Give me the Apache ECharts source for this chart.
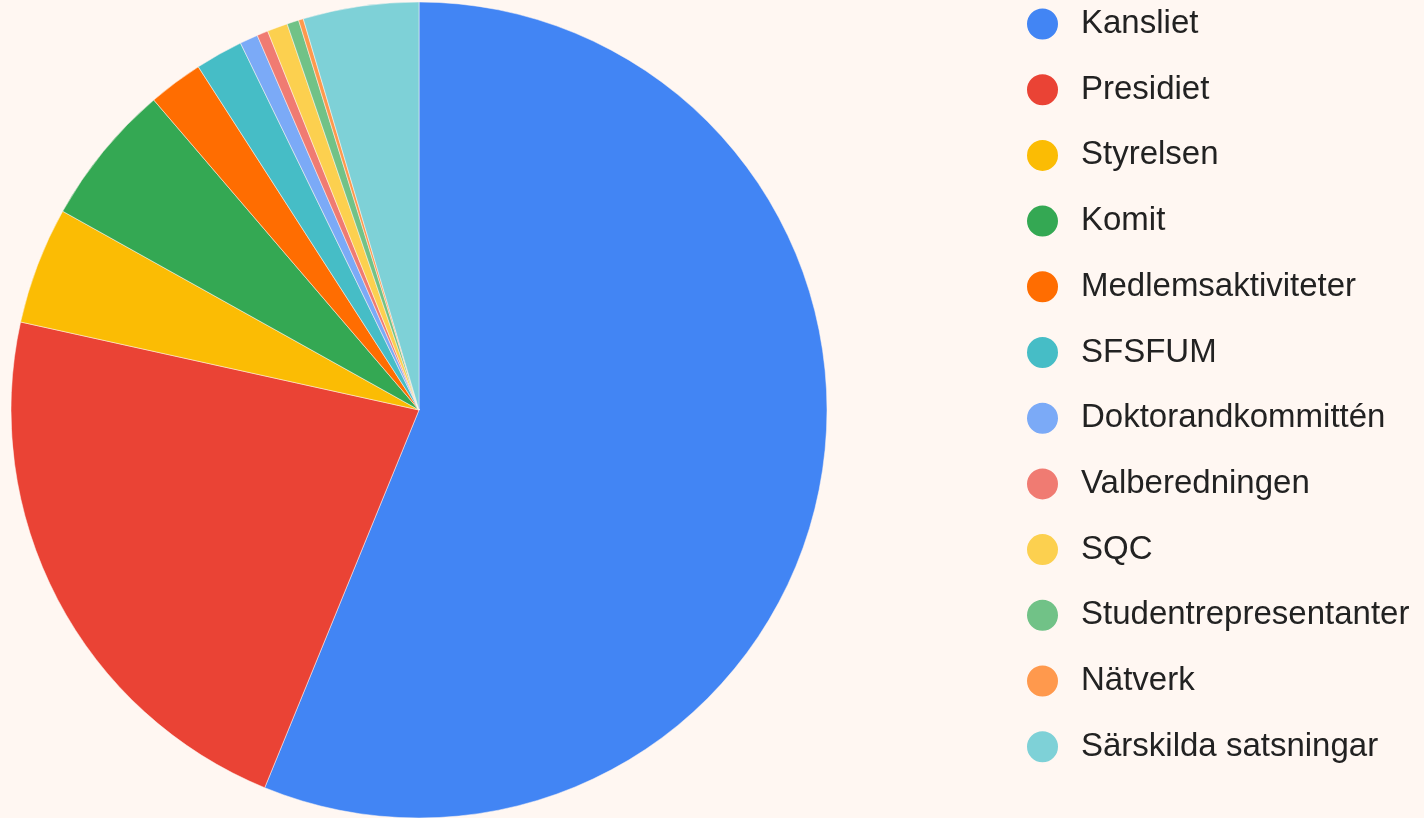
<!DOCTYPE html>
<html>
<head>
<meta charset="utf-8">
<script src="https://cdn.jsdelivr.net/npm/echarts@6/dist/echarts.min.js"></script>
<style>
  html, body { margin: 0; padding: 0; background: #fff7f2; }
  #chart { width: 1424px; height: 818px; }
</style>
</head>
<body>
<div id="chart"></div>
<script>
// Data (percent of total)
const categories = [
    "Kansliet", "Presidiet", "Styrelsen", "Komit", "Medlemsaktiviteter", "SFSFUM",
    "Doktorandkommittén", "Valberedningen", "SQC", "Studentrepresentanter", "Nätverk",
    "Särskilda satsningar"
];
const values = [56.2, 22.3, 4.64, 5.64, 2.17, 1.89, 0.72, 0.44, 0.81, 0.47, 0.19, 4.58];
const colors = [
    "#4285f4", "#ea4335", "#fbbc04", "#34a853", "#ff6d01", "#46bdc6",
    "#7baaf7", "#f07b72", "#fcd04f", "#71c287", "#ff994d", "#7ed1d7"
];

const chart = echarts.init(document.getElementById("chart"));

chart.setOption({
    backgroundColor: "#fff7f2",
    color: colors,
    animation: false,
    legend: {
        orient: "vertical",
        left: 1025,
        top: 6.5,
        padding: 0,
        icon: "circle",
        itemWidth: 33,
        itemHeight: 33,
        itemGap: 30.7,
        textStyle: {
            fontFamily: "'Liberation Sans', Arial, sans-serif",
            fontSize: 33,
            lineHeight: 33,
            color: "#222",
            padding: [0, 0, 0, 17]
        },
        data: categories
    },
    series: [
        {
            type: "pie",
            center: [419, 410],
            radius: 408,
            startAngle: 90,
            clockwise: true,
            label: { show: false },
            labelLine: { show: false },
            itemStyle: { borderColor: "#fff7f2", borderWidth: 0.5 },
            data: categories.map((name, i) => ({ name: name, value: values[i] }))
        }
    ]
});
</script>
</body>
</html>
